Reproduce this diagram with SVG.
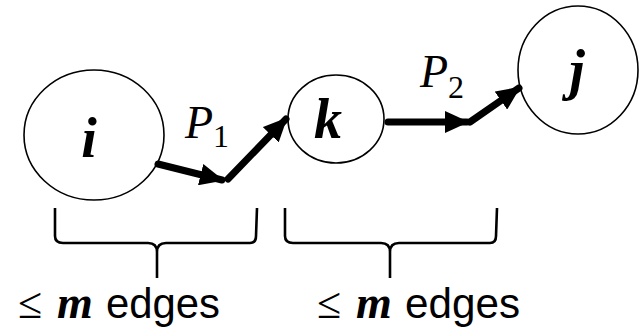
<svg xmlns="http://www.w3.org/2000/svg" width="641" height="329" viewBox="0 0 641 329">
<style>
.node{fill:#fff;stroke:#000;stroke-width:1.6}
.lbl{font-family:"Liberation Serif",serif;font-style:italic;font-weight:bold;font-size:56px;text-anchor:middle}
.p{font-family:"Liberation Serif",serif;font-style:italic;font-size:46px}
.sub{font-family:"Liberation Serif",serif;font-size:32px;font-style:normal}
.edge{stroke:#000;stroke-width:7;fill:none;stroke-linecap:round}
.brace{stroke:#000;stroke-width:2.6;fill:none}
.t{font-family:"Liberation Sans",sans-serif;font-size:42px}
.m{font-family:"Liberation Serif",serif;font-style:italic;font-weight:bold;font-size:46px}
.le{font-family:"Liberation Serif",serif;font-size:44px}
</style>
<defs>
<marker id="ah" markerUnits="userSpaceOnUse" markerWidth="24" markerHeight="22" refX="22" refY="11" orient="auto">
<path d="M0,0 L24,11 L0,22 Z" fill="#000"/>
</marker>
</defs>
<g id="node-i"><ellipse class="node" cx="94" cy="135" rx="70" ry="65"/><text class="lbl" x="89" y="157">i</text></g>
<g id="node-k"><ellipse class="node" cx="336" cy="119" rx="48" ry="44"/><text class="lbl" x="328" y="138">k</text></g>
<g id="node-j"><ellipse class="node" cx="578" cy="70" rx="60" ry="64"/><text class="lbl" x="577" y="89">j</text></g>
<g id="connectors">
<line class="edge" x1="158" y1="164" x2="222" y2="180" marker-end="url(#ah)"/>
<line class="edge" x1="228" y1="179" x2="286" y2="119" marker-end="url(#ah)"/>
<line class="edge" x1="388" y1="122" x2="467" y2="122" marker-end="url(#ah)"/>
<line class="edge" x1="470" y1="122" x2="519" y2="88" marker-end="url(#ah)"/>
</g>
<g id="label-p1"><text class="p" x="185" y="138">P<tspan class="sub" dy="9">1</tspan></text></g>
<g id="label-p2"><text class="p" x="420" y="87">P<tspan class="sub" dy="11">2</tspan></text></g>
<g id="brace-left">
<path class="brace" d="M55,208 L55,236 Q55,243 63,243 L148,243 Q157,243 157,252 L157,278 M157,252 Q157,243 166,243 L250,243 Q256,243 256,236 L257,208"/>
<text x="18" y="318"><tspan class="le">≤</tspan><tspan class="m" x="57">m</tspan><tspan class="t" x="106" textLength="114" lengthAdjust="spacingAndGlyphs">edges</tspan></text>
</g>
<g id="brace-right">
<path class="brace" d="M285,208 L285,236 Q285,243 293,243 L381,243 Q390,243 390,252 L390,278 M390,252 Q390,243 399,243 L490,243 Q496,243 496,236 L497,208"/>
<text x="317" y="318"><tspan class="le">≤</tspan><tspan class="m" x="356">m</tspan><tspan class="t" x="405" textLength="115" lengthAdjust="spacingAndGlyphs">edges</tspan></text>
</g>
</svg>
